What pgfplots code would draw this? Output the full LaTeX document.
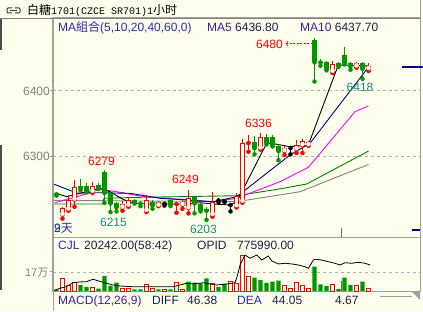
\documentclass[border=0pt]{standalone}
\usepackage{pgfplots}
\pgfplotsset{compat=1.18}
\usepackage{fontspec}
\setmainfont{Liberation Sans}
\newfontfamily\cjk{Noto Sans CJK SC}
\newfontfamily\mono{Liberation Mono}
\definecolor{bg}{RGB}{255,255,238}
\definecolor{cred}{RGB}{255,0,0}
\definecolor{cgreen}{RGB}{0,150,0}
\definecolor{navy}{RGB}{0,0,128}
\definecolor{mag}{RGB}{255,0,255}
\definecolor{ma40}{RGB}{0,128,0}
\definecolor{ma60}{RGB}{128,128,128}
\definecolor{framec}{RGB}{160,160,160}
\definecolor{gridc}{RGB}{175,175,175}
\definecolor{lblgray}{RGB}{128,128,128}
\definecolor{tealc}{RGB}{30,140,120}
\definecolor{txtblue}{RGB}{40,40,190}
\definecolor{malbl}{RGB}{60,30,150}
\definecolor{txtdark}{RGB}{30,30,70}
\begin{document}
\begin{tikzpicture}
\fill[bg] (0,0) rectangle (423pt,311pt);
% ---------------- main price panel ----------------
\begin{axis}[at={(53pt,74pt)}, anchor=south west, width=367pt, height=219pt, scale only axis,
  xmin=-0.583, xmax=60.583, ymin=6177, ymax=6510.8,
  xtick=\empty, ytick={6300,6400}, yticklabels={,,}, ytick pos=left,
  tick align=outside, major tick length=3pt, tick style={framec, line width=1pt},
  ymajorgrids, grid style={gridc, dash pattern=on 3pt off 3pt, line width=0.8pt},
  axis line style={framec, line width=1pt}]
% moving averages
\addplot[ma60, mark=none, line width=0.9pt] coordinates {(-0.58,6232.9) (30.03,6230.8) (40.58,6246) (52,6287.5)};
\addplot[ma40, mark=none, line width=0.9pt] coordinates {(-0.58,6227.3) (7.75,6227.3) (7.9,6236) (14,6237.5) (30.03,6239.9) (37.8,6251.2) (41.7,6257.8) (52,6308)};
\addplot[mag, mark=none, line width=0.9pt] coordinates {(-0.25,6229.3) (3.37,6238.4) (7.25,6249.7) (10.03,6246) (13.92,6239.5) (18.37,6236) (26.08,6230.8) (30.03,6236) (37.25,6261.3) (41.97,6283.2) (49.75,6368) (52,6377)};
\addplot[navy, mark=none, line width=0.9pt] coordinates {(-0.58,6258) (1.7,6250) (3.37,6244) (7.25,6244.5) (12.25,6243.6) (17.25,6236) (26.08,6230.8) (30.03,6238.4) (38.92,6302) (42.25,6319.8) (52,6436.1)};
\addplot[black, mark=none, line width=0.9pt] coordinates {(-0.58,6243) (-0.08,6243.6) (1.7,6238.4) (3.92,6243.6) (7.25,6251.2) (8.92,6246) (11.08,6234.5) (12.75,6228.4) (15.58,6227.3) (21.7,6227.3) (23.92,6229.3) (26.08,6227.3) (28.92,6225.8) (30.03,6230.8) (35.03,6319.8) (35.87,6319.8) (38.92,6314.6) (41.97,6317.2) (46.97,6439.2) (52,6437.7)};
% wicks
\addplot[cred, mark=none, only marks, error bars/.cd, y dir=plus, y explicit, error mark=none, error bar style={line width=1pt}] coordinates {
(1,6205)+-(0,17) (2,6217)+-(0,24) (3,6223)+-(0,41) (6,6244)+-(0,17) (11,6217)+-(0,15) (12,6223)+-(0,13) (15,6215)+-(0,26) (17,6224)+-(0,8) (20,6214)+-(0,15) (21,6220)+-(0,13) (22,6213)+-(0,36) (26,6208)+-(0,38) (30,6222)+-(0,22) (31,6229)+-(0,97) (32,6307)+-(0,25) (34,6310)+-(0,26) (38,6302)+-(0,13) (40,6305)+-(0,20) (41,6305)+-(0,22) (42,6316)+-(0,8) (46,6427)+-(0,18) (50,6435)+-(0,9) (52,6430)+-(0,12)};
\addplot[cgreen, mark=none, only marks, error bars/.cd, y dir=plus, y explicit, error mark=none, error bar style={line width=1pt}] coordinates {
(0,6240)+-(0,6) (4,6248)+-(0,18) (5,6245)+-(0,15) (7,6250)+-(0,10) (8,6229)+-(0,50) (9,6215)+-(0,31) (10,6216)+-(0,15) (13,6228)+-(0,7) (14,6224)+-(0,7) (16,6220)+-(0,13) (19,6224)+-(0,11) (23,6213)+-(0,27) (24,6216)+-(0,16) (25,6203)+-(0,19) (33,6303)+-(0,28) (35,6318)+-(0,16) (36,6315)+-(0,17) (37,6294)+-(0,24) (43,6414)+-(0,66) (44,6438)+-(0,10) (45,6431)+-(0,15) (47,6436)+-(0,7) (48,6440)+-(0,26) (49,6432)+-(0,11) (51,6418)+-(0,26)};
\addplot[black, mark=none, only marks, error bars/.cd, y dir=plus, y explicit, error mark=none, error bar style={line width=1pt}] coordinates {
(18,6225)+-(0,5) (27,6230)+-(0,6) (28,6230)+-(0,4) (29,6216)+-(0,11) (39,6303)+-(0,12)};
% bodies
\addplot[cred, mark=none, only marks, error bars/.cd, y dir=plus, y explicit, error mark=none, error bar style={line width=4.4pt}] coordinates {
(1,6211)+-(0,10) (2,6219)+-(0,15) (3,6234)+-(0,19) (6,6246)+-(0,9) (11,6222)+-(0,6) (12,6225)+-(0,8) (15,6217)+-(0,16) (17,6225)+-(0,6) (20,6227)+-(0,1.2) (21,6226)+-(0,4) (22,6221)+-(0,16) (26,6211)+-(0,20) (30,6224)+-(0,16) (31,6231)+-(0,90) (32,6320)+-(0,1.2) (34,6312)+-(0,18) (38,6308)+-(0,5) (40,6311)+-(0,6) (41,6317)+-(0,6) (42,6317)+-(0,5) (46,6429)+-(0,12) (50,6437)+-(0,5) (52,6433)+-(0,4)};
\addplot[bg, mark=none, only marks, error bars/.cd, y dir=plus, y explicit, error mark=none, error bar style={line width=2.4pt}] coordinates {
(1,6212.5)+-(0,7) (2,6220.5)+-(0,12) (3,6235.5)+-(0,16) (6,6247.5)+-(0,6) (11,6223.5)+-(0,3) (12,6226.5)+-(0,5) (15,6218.5)+-(0,13) (17,6226.5)+-(0,3) (21,6227.5)+-(0,1) (22,6222.5)+-(0,13) (26,6212.5)+-(0,17) (30,6225.5)+-(0,13) (31,6232.5)+-(0,87) (34,6313.5)+-(0,15) (38,6309.5)+-(0,2) (40,6312.5)+-(0,3) (41,6318.5)+-(0,3) (42,6318.5)+-(0,2) (46,6430.5)+-(0,9) (50,6438.5)+-(0,2) (52,6434.5)+-(0,1)};
\addplot[cgreen, mark=none, only marks, error bars/.cd, y dir=plus, y explicit, error mark=none, error bar style={line width=4.4pt}] coordinates {
(0,6242)+-(0,2) (4,6251)+-(0,3) (5,6247)+-(0,7) (7,6252)+-(0,4) (8,6244)+-(0,32) (9,6228)+-(0,16) (10,6222)+-(0,7) (13,6229)+-(0,5) (14,6228)+-(0,1.2) (16,6225)+-(0,6) (19,6226)+-(0,7) (23,6228)+-(0,10) (24,6218)+-(0,10) (25,6217)+-(0,3) (33,6312)+-(0,10) (35,6320)+-(0,9) (36,6317)+-(0,12) (37,6308)+-(0,7) (43,6443)+-(0,35) (44,6443)+-(0,1.2) (45,6433)+-(0,10) (47,6438)+-(0,4) (48,6442)+-(0,12) (49,6437)+-(0,5) (51,6433)+-(0,9)};
\addplot[black, mark=none, only marks, error bars/.cd, y dir=plus, y explicit, error mark=none, error bar style={line width=4.4pt}] coordinates {
(18,6227.6)+-(0,0.8) (27,6232.6)+-(0,0.8) (28,6231.6)+-(0,0.8) (29,6225.6)+-(0,0.8) (39,6312.6)+-(0,0.8)};
\end{axis}
% ---------------- volume panel ----------------
\begin{axis}[at={(53pt,20pt)}, anchor=south west, width=367pt, height=54pt, scale only axis,
  xmin=-0.583, xmax=60.583, ymin=0, ymax=48.3,
  xtick=\empty, ytick={17}, yticklabels={,}, ytick pos=left,
  tick align=outside, major tick length=3pt, tick style={framec, line width=1pt},
  ymajorgrids, grid style={gridc, dash pattern=on 3pt off 3pt, line width=0.8pt},
  axis line style={framec, line width=1pt}]
\addplot[ybar, bar width=4.4pt, bar shift=0pt, draw=cred, fill=bg, line width=1pt] coordinates {
(1,11.4) (2,4.5) (3,7.8) (6,2.7) (11,2.4) (12,2.4) (15,6.0) (16,2.4) (18,1.5) (20,7.4) (21,0.9) (26,6.3) (29,8.3) (30,6.9) (31,32.2) (32,13.4) (38,4.5) (39,2.4) (40,7.4) (41,4.5) (42,2.4) (46,5.4) (50,4.5) (52,1.8)};
\addplot[ybar, bar width=4.4pt, bar shift=0pt, draw=none, fill=cgreen] coordinates {
(0,1.3) (4,5.4) (5,3.8) (7,2.2) (8,13.4) (9,4.5) (10,7.4) (13,1.5) (14,1.5) (17,1.5) (19,1.5) (22,8.3) (23,7.4) (24,6.9) (25,11.4) (27,3.8) (28,6.3) (33,11.9) (34,9.8) (35,7.2) (36,8.3) (37,9.2) (43,21.7) (44,6.0) (45,4.5) (47,1.8) (48,11.9) (49,5.4) (51,8.3)};
\addplot[black, mark=none, line width=0.8pt] coordinates {
(-0.58,0) (0.53,2.4) (1.63,3.8) (2.75,7.4) (3.9,8.1) (4.97,8.3) (6.08,10.5) (6.9,9.2) (8.3,6.9) (9.4,5.4) (10.6,4.5) (12.75,3.8) (16.1,3.8) (19.4,3.8) (21.7,6.9) (22.75,6.3) (24.5,7.4) (25.6,6.3) (26.7,5.4) (28.4,6.3) (29.75,7.4) (30.1,12.8) (30.6,23.3) (31.4,32.2) (32.25,29.3) (33.4,32.2) (34.2,27.7) (35.3,31.3) (35.9,26.8) (37.0,24.2) (38.1,24.8) (39.2,24.2) (40.3,23.3) (41.4,21.7) (42.0,20.3) (42.8,27.7) (43.1,28.4) (44.2,27.7) (45.3,26.2) (46.4,24.8) (47.25,23.3) (48.1,25.3) (49.2,24.8) (50.3,25.7) (51.4,24.8) (52.25,23.3)};
\end{axis}
% ---------------- decorations and text (pixel coordinates) ----------------
\begin{scope}[x=1pt, y=-1pt, shift={(0pt,311pt)}, every node/.style={inner sep=0pt}]
\fill[black!70] (0,18) rectangle (1.6,50);
\fill[black!70] (0,145) rectangle (1.6,290);
\draw[black!50, line width=1pt] (0,18.5) -- (420,18.5);
\draw[framec, line width=1pt] (420,0) -- (420,18.5);
\draw[framec, line width=1pt] (53,18.5) -- (53,311);
\draw[navy, line width=1.2pt] (402,67) -- (423,67);
\draw[navy, line width=1.2pt] (412,230) -- (420,230);
\draw[black!60, line width=1pt] (341.7,228) -- (341.7,237);
\draw[black!60, line width=1pt] (341.7,281) -- (341.7,291);
\draw[framec, line width=1pt] (380,296.5) -- (412,296.5);
\fill[framec] (411,291) -- (420,291) -- (420,300) -- cycle;
% title icon
\draw[black!80, line width=1pt, rounded corners=1pt] (12,8) -- (7,8) -- (7,13) -- (12,13);
\draw[black!80, line width=1pt, rounded corners=1pt] (15,8) -- (20,8) -- (20,13) -- (15,13);
\draw[black!80, line width=1pt] (10,10.5) -- (17,10.5);
\node[anchor=base west] at (27,14.2) {{\cjk\fontsize{12}{12}\selectfont 白糖}{\mono\fontsize{10}{12}\selectfont 1701(CZCE SR701)1}{\cjk\fontsize{12}{12}\selectfont 小时}};
% MA line
\node[anchor=base west, text=txtblue] at (58,31.5) {\fontsize{12}{12}\selectfont MA{\cjk 組合}(5,10,20,40,60,0)};
\node[anchor=base west] at (207,31.5) {\fontsize{12}{12}\selectfont\color{malbl}MA5\ \color{txtdark}6436.80};
\node[anchor=base west] at (300,31.5) {\fontsize{12}{12}\selectfont\color{malbl}MA10\ \color{txtdark}6437.70};
% axis labels
\node[anchor=base east, text=lblgray] at (50,95.3) {\fontsize{12}{12}\selectfont 6400};
\node[anchor=base east, text=lblgray] at (50,160.6) {\fontsize{12}{12}\selectfont 6300};
\node[anchor=base east, text=lblgray] at (48.5,276) {\fontsize{11}{11}\selectfont 17{\cjk 万}};
% price annotations
\node[anchor=base east, text=cred] at (283,48.3) {\fontsize{12}{12}\selectfont 6480};
\draw[cred, line width=0.8pt, dash pattern=on 2pt off 1.5pt, <-] (285.5,43.5) -- (313,43.5);
\node[anchor=base, text=cred] at (258.5,127.3) {\fontsize{12}{12}\selectfont 6336};
\node[anchor=base, text=cred] at (101.5,165.8) {\fontsize{12}{12}\selectfont 6279};
\node[anchor=base, text=cred] at (185.5,183.3) {\fontsize{12}{12}\selectfont 6249};
\node[anchor=base, text=tealc] at (113.5,226) {\fontsize{12}{12}\selectfont 6215};
\node[anchor=base, text=tealc] at (203.5,233.3) {\fontsize{12}{12}\selectfont 6203};
\node[anchor=base, text=tealc] at (360,91.8) {\fontsize{12}{12}\selectfont 6418};
\node[anchor=base west, text=cgreen] at (54,232) {\fontsize{12}{12}\selectfont 2};
\node[anchor=base west, text=txtblue] at (54,232) {\fontsize{12}{12}\selectfont 9{\cjk 天}};
% volume header
\node[anchor=base west, text=txtblue] at (58,249.5) {\fontsize{12}{12}\selectfont CJL};
\node[anchor=base west, text=txtdark] at (84,249.5) {\fontsize{12}{12}\selectfont 20242.00(58:42)};
\node[anchor=base west, text=txtdark] at (197,249.5) {\fontsize{12}{12}\selectfont OPID};
\node[anchor=base west, text=txtdark] at (237,249.5) {\fontsize{12}{12}\selectfont 775990.00};
% MACD header
\node[anchor=base west, text=malbl] at (58,304) {\fontsize{12}{12}\selectfont MACD(12,26,9)};
\node[anchor=base west, text=txtdark] at (152,304) {\fontsize{12}{12}\selectfont DIFF};
\node[anchor=base west, text=txtdark] at (187,304) {\fontsize{12}{12}\selectfont 46.38};
\node[anchor=base west, text=txtblue] at (237,304) {\fontsize{12}{12}\selectfont DEA};
\node[anchor=base west, text=txtdark] at (272,304) {\fontsize{12}{12}\selectfont 44.05};
\node[anchor=base west, text=txtdark] at (335,304) {\fontsize{12}{12}\selectfont 4.67};
\end{scope}
\pgfresetboundingbox
\path[use as bounding box] (0,0) rectangle (423pt,311pt);
\end{tikzpicture}
\end{document}
